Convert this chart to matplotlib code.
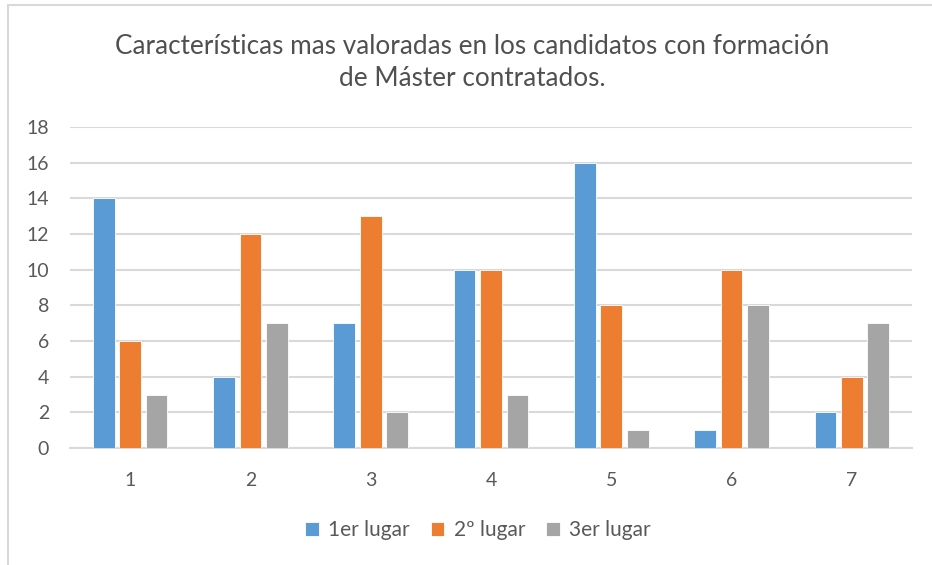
import matplotlib.pyplot as plt
import numpy as np
from matplotlib.patches import Rectangle

# data
categories = ['1', '2', '3', '4', '5', '6', '7']
primero = [14, 4, 7, 10, 16, 1, 2]
segundo = [6, 12, 13, 10, 8, 10, 4]
tercero = [3, 7, 2, 3, 1, 8, 7]
series_names = ['1er lugar', '2º lugar', '3er lugar']
colors = ['#5b9bd5', '#ed7d31', '#a5a5a5']

plt.rcParams['font.family'] = ['Lato', 'DejaVu Sans']

fig = plt.figure(figsize=(9.32, 5.65), dpi=100)
ax = fig.add_axes([70 / 932, 1 - 448 / 565, 842 / 932, 321 / 565])

x = np.arange(1, len(categories) + 1)
w = 0.18
step = 0.22
for i, (vals, name, c) in enumerate(zip([primero, segundo, tercero], series_names, colors)):
    ax.bar(x + (i - 1) * step, vals, width=w, color=c, label=name,
           edgecolor='white', linewidth=0.6, zorder=3)

ax.set_xlim(0.5, 7.5)
ax.set_ylim(0, 18)
ax.set_yticks(range(0, 19, 2))
ax.set_xticks(x)
ax.set_xticklabels(categories)
ax.yaxis.grid(True, color='#d9d9d9', linewidth=1.5, zorder=0)
for s in ['top', 'right', 'left']:
    ax.spines[s].set_visible(False)
ax.spines['bottom'].set_color('#d9d9d9')
ax.spines['bottom'].set_linewidth(1.5)
ax.tick_params(axis='both', length=0, labelsize=14, colors='#595959')
ax.tick_params(axis='y', pad=15)
ax.tick_params(axis='x', pad=17)

fig.text(472 / 932, 1 - 62 / 565,
         'Características mas valoradas en los candidatos con formación\nde Máster contratados.',
         ha='center', va='center', fontsize=18.8, color='#505050', linespacing=1.35)

leg = ax.legend(loc='center', bbox_to_anchor=(478 / 932, 1 - 530 / 565),
                bbox_transform=fig.transFigure, ncol=3, frameon=False,
                fontsize=15, handlelength=0.65, handleheight=0.65,
                handletextpad=0.45, columnspacing=1.0)
for t in leg.get_texts():
    t.set_color('#595959')

# light chart border
fig.add_artist(Rectangle((8 / 932, -0.1), 1.2, 1 - 5 / 565 + 0.1,
                         transform=fig.transFigure, fill=False,
                         edgecolor='#d9d9d9', linewidth=1.5))

fig.savefig('out.png', dpi=100)
